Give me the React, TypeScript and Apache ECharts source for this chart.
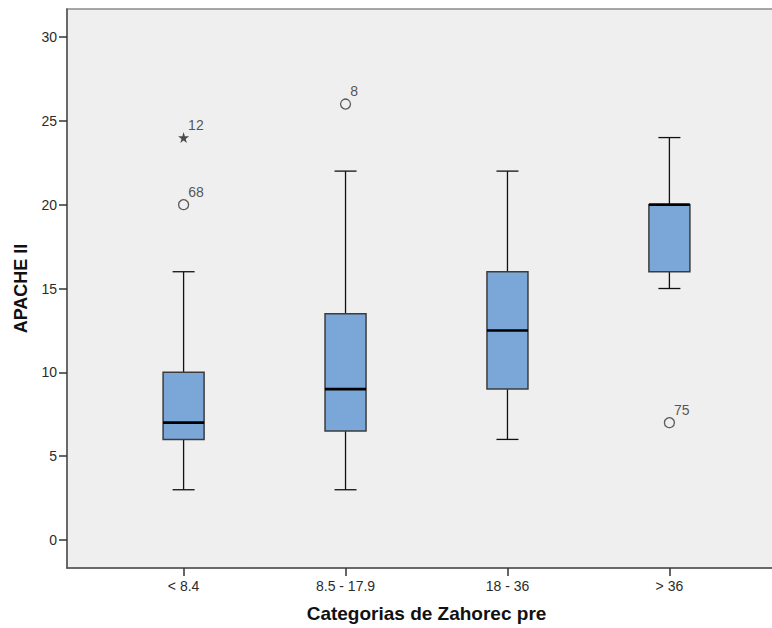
import React, { useEffect, useRef } from "react";
import * as echarts from "echarts";

// Zahorec index groups on the horizontal axis
const CATEGORIES = ["< 8.4", "8.5 - 17.9", "18 - 36", "> 36"];

// Five-number summaries of APACHE II per group
const LOWER_WHISKER = [3, 3, 6, 15];
const Q1 = [6, 6.5, 9, 16];
const MEDIAN = [7, 9, 12.5, 20];
const Q3 = [10, 13.5, 16, 20];
const UPPER_WHISKER = [16, 22, 22, 24];

// Individual cases outside the whiskers
const OUTLIER_GROUP = [1, 1, 2, 4];
const OUTLIER_VALUE = [20, 24, 26, 7];
const OUTLIER_CASE = ["68", "12", "8", "75"];
const OUTLIER_EXTREME = [false, true, false, false];

const Y_TICKS = [0, 5, 10, 15, 20, 25, 30];

const STAR =
  "path://M50,0 L61,35 L98,35 L68,57 L79,91 L50,70 L21,91 L32,57 L2,35 L39,35 Z";

const TEXT_COLOR = "#2b2b2b";
const FONT = "Arial, 'Liberation Sans', sans-serif";

export default function App() {
  const ref = useRef<HTMLDivElement>(null);

  useEffect(() => {
    if (!ref.current) return;
    const chart = echarts.init(ref.current, undefined, { renderer: "svg" });

    const boxData = CATEGORIES.map((_, i) => [
      i + 1,
      LOWER_WHISKER[i],
      Q1[i],
      MEDIAN[i],
      Q3[i],
      UPPER_WHISKER[i],
    ]);

    const circleData: any[] = [];
    const starData: any[] = [];
    OUTLIER_VALUE.forEach((v, i) => {
      const item = { value: [OUTLIER_GROUP[i], v], name: OUTLIER_CASE[i] };
      (OUTLIER_EXTREME[i] ? starData : circleData).push(item);
    });

    const outlierLabel = {
      show: true,
      position: "right",
      distance: -1,
      offset: [0, -13],
      formatter: (p: any) => p.name,
      color: TEXT_COLOR,
      fontSize: 14,
      fontFamily: FONT,
    };

    chart.setOption({
      animation: false,
      backgroundColor: "#ffffff",
      grid: {
        left: 67,
        top: 9,
        right: 0,
        bottom: 60,
        show: true,
        backgroundColor: "#efefef",
        borderColor: "#8c8c8c",
        borderWidth: 1.5,
      },
      xAxis: {
        type: "value",
        min: 0.28,
        max: 4.72,
        name: "Categorias de Zahorec pre",
        nameLocation: "middle",
        nameGap: 36,
        nameTextStyle: {
          fontSize: 19,
          fontWeight: "bold",
          color: "#111",
          fontFamily: FONT,
        },
        splitLine: { show: false },
        axisLine: {
          show: true,
          onZero: false,
          lineStyle: { color: "#555", width: 1.5 },
        },
        axisTick: {
          show: true,
          length: 8,
          customValues: [1, 2, 3, 4],
          lineStyle: { color: "#333", width: 1.5 },
        },
        axisLabel: {
          customValues: [1, 2, 3, 4],
          formatter: (v: number) => CATEGORIES[Math.round(v) - 1] ?? "",
          margin: 11,
          fontSize: 14,
          color: TEXT_COLOR,
          fontFamily: FONT,
        },
      },
      yAxis: {
        type: "value",
        min: -5 / 3,
        max: 95 / 3,
        name: "APACHE II",
        nameLocation: "middle",
        nameGap: 37,
        nameTextStyle: {
          fontSize: 18,
          fontWeight: "bold",
          color: "#111",
          fontFamily: FONT,
        },
        splitLine: { show: false },
        axisLine: {
          show: true,
          onZero: false,
          lineStyle: { color: "#555", width: 1.5 },
        },
        axisTick: {
          show: true,
          length: 8,
          customValues: Y_TICKS,
          lineStyle: { color: "#333", width: 1.5 },
        },
        axisLabel: {
          customValues: Y_TICKS,
          margin: 10,
          fontSize: 14,
          color: TEXT_COLOR,
          fontFamily: FONT,
        },
      },
      series: [
        {
          type: "custom",
          data: boxData,
          encode: { x: 0, y: [1, 2, 3, 4, 5] },
          renderItem: (_params: any, api: any) => {
            const x = api.value(0);
            const lo = api.coord([x, api.value(1)]);
            const q1 = api.coord([x, api.value(2)]);
            const md = api.coord([x, api.value(3)]);
            const q3 = api.coord([x, api.value(4)]);
            const hi = api.coord([x, api.value(5)]);
            const cx = lo[0];
            const half = 20.5;
            const cap = 11;
            const whisker = { stroke: "#111", lineWidth: 1.3 };
            return {
              type: "group",
              children: [
                {
                  type: "line",
                  shape: { x1: cx, y1: lo[1], x2: cx, y2: q1[1] },
                  style: whisker,
                },
                {
                  type: "line",
                  shape: { x1: cx, y1: q3[1], x2: cx, y2: hi[1] },
                  style: whisker,
                },
                {
                  type: "line",
                  shape: { x1: cx - cap, y1: lo[1], x2: cx + cap, y2: lo[1] },
                  style: whisker,
                },
                {
                  type: "line",
                  shape: { x1: cx - cap, y1: hi[1], x2: cx + cap, y2: hi[1] },
                  style: whisker,
                },
                {
                  type: "rect",
                  shape: {
                    x: cx - half,
                    y: q3[1],
                    width: half * 2,
                    height: q1[1] - q3[1],
                  },
                  style: { fill: "#7ba7d8", stroke: "#3c3c3c", lineWidth: 1.5 },
                },
                {
                  type: "line",
                  shape: { x1: cx - half, y1: md[1], x2: cx + half, y2: md[1] },
                  style: { stroke: "#000", lineWidth: 2.6 },
                },
              ],
            };
          },
        },
        {
          type: "scatter",
          data: circleData,
          symbol: "circle",
          symbolSize: 10,
          itemStyle: { color: "#efefef", borderColor: "#333", borderWidth: 1.3 },
          label: outlierLabel,
        },
        {
          type: "scatter",
          data: starData,
          symbol: STAR,
          symbolSize: 11,
          itemStyle: { color: "#222" },
          label: outlierLabel,
        },
      ],
    });

    return () => chart.dispose();
  }, []);

  // The plot frame runs past the right edge of the visible area
  return (
    <div
      style={{
        position: "absolute",
        left: 0,
        top: 0,
        width: 772,
        height: 628,
        overflow: "hidden",
      }}
    >
      <div ref={ref} style={{ width: 786, height: 628 }} />
    </div>
  );
}
